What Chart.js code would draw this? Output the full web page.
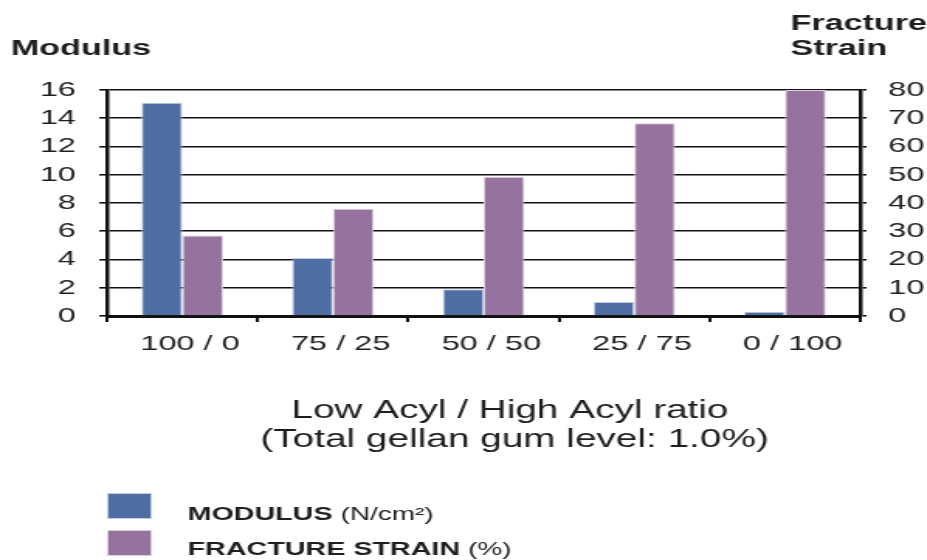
<!DOCTYPE html>
<html>
<head>
<meta charset="utf-8">
<script src="https://cdn.jsdelivr.net/npm/chart.js@4.4.1/dist/chart.umd.min.js"></script>
<style>
  html, body { margin: 0; padding: 0; background: #fff; overflow: hidden; }
  #wrap { width: 927px; height: 560px; overflow: hidden; }
  /* the chart is laid out narrow and widened horizontally */
  #c { transform: scaleX(1.55); transform-origin: 0 0; }
</style>
</head>
<body>
<div id="wrap"><canvas id="c" width="598" height="560"></canvas></div>
<script>
// Low acyl / high acyl blend ratios
const ratios = ['100 / 0', '75 / 25', '50 / 50', '25 / 75', '0 / 100'];
// Gel modulus, N/cm²
const modulus = [15.1, 4.1, 1.9, 1.0, 0.3];
// Fracture strain, %
const fractureStrain = [28.5, 38, 49.3, 68.2, 80];

const seriesNames = ['MODULUS', 'FRACTURE STRAIN'];
const seriesUnits = ['(N/cm²)', '(%)'];
const seriesColors = ['#4e6da3', '#96729e'];
const seriesEdges = ['#c3cde3', '#dccfe0'];

const leftAxisTitle = ['Modulus'];
const rightAxisTitle = ['Fracture', 'Strain'];
const xAxisTitle = ['Low Acyl / High Acyl ratio', '(Total gellan gum level: 1.0%)'];

const FONT = '"Liberation Sans", Arial, Helvetica, sans-serif';
const INK = '#1e1e1e';
const LINE = '#111111';

// Category labels sit a little right of their bar pairs
const labelShift = {
  id: 'labelShift',
  beforeDraw(chart) {
    const s = chart.scales.x;
    const items = s.getLabelItems(chart.chartArea);
    if (items._shifted) return;
    items.forEach(it => { it.options.translation[0] += 5; });
    items._shifted = true;
  }
};

// Axis titles and the stacked legend under the plot
const extraText = {
  id: 'extraText',
  afterDraw(chart) {
    const ctx = chart.ctx;
    ctx.save();
    ctx.fillStyle = INK;
    ctx.textBaseline = 'alphabetic';

    ctx.font = 'bold 22px ' + FONT;
    ctx.textAlign = 'left';
    ctx.fillText(leftAxisTitle[0], 7, 55);
    ctx.fillText(rightAxisTitle[0], 510, 30);
    ctx.fillText(rightAxisTitle[1], 510, 55);

    ctx.font = '25px ' + FONT;
    ctx.textAlign = 'center';
    ctx.fillText(xAxisTitle[0], 329, 418);
    ctx.fillText(xAxisTitle[1], 332, 447);

    const rows = [{ box: 493, base: 520 }, { box: 530, base: 555 }];
    chart.data.datasets.forEach((ds, i) => {
      const r = rows[i];
      ctx.fillStyle = ds.backgroundColor;
      ctx.fillRect(69, r.box, 29, 26);
      ctx.strokeStyle = ds.borderColor;
      ctx.lineWidth = 1;
      ctx.strokeRect(69.5, r.box + 0.5, 28, 25);
      ctx.fillStyle = INK;
      ctx.textAlign = 'left';
      ctx.font = 'bold 18.5px ' + FONT;
      ctx.fillText(seriesNames[i], 121, r.base);
      const w = ctx.measureText(seriesNames[i] + ' ').width;
      ctx.font = '18px ' + FONT;
      ctx.fillText(seriesUnits[i], 121 + w, r.base);
    });
    ctx.restore();
  }
};

Chart.defaults.font.family = FONT;

new Chart(document.getElementById('c'), {
  type: 'bar',
  data: {
    labels: ratios,
    datasets: [
      {
        label: seriesNames[0] + ' ' + seriesUnits[0],
        data: modulus,
        yAxisID: 'y',
        backgroundColor: seriesColors[0],
        borderColor: seriesEdges[0],
        borderWidth: 1,
        categoryPercentage: 0.542,
        barPercentage: 1.0
      },
      {
        label: seriesNames[1] + ' ' + seriesUnits[1],
        data: fractureStrain,
        yAxisID: 'y1',
        backgroundColor: seriesColors[1],
        borderColor: seriesEdges[1],
        borderWidth: 1,
        categoryPercentage: 0.542,
        barPercentage: 1.0
      }
    ]
  },
  options: {
    responsive: false,
    animation: false,
    devicePixelRatio: 1,
    layout: { padding: { top: 90, left: 0, right: 0, bottom: 0 } },
    plugins: {
      legend: { display: false },
      tooltip: { enabled: false },
      title: { display: false }
    },
    scales: {
      x: {
        offset: true,
        grid: { offset: true, drawOnChartArea: false, drawTicks: true, tickLength: 6, color: LINE, lineWidth: 2 },
        border: { display: true, color: LINE, width: 3 },
        ticks: { color: INK, font: { size: 21 }, padding: 10, maxRotation: 0, autoSkip: false },
        afterFit(s) { s.height = 244; }
      },
      y: {
        position: 'left',
        min: 0, max: 16,
        ticks: { stepSize: 2, color: INK, font: { size: 21 }, padding: 15 },
        grid: { color: LINE, lineWidth: 1.6, tickLength: 5, drawTicks: true },
        border: { display: true, color: LINE, width: 2.5 },
        afterFit(s) { s.width = 69; }
      },
      y1: {
        position: 'right',
        min: 0, max: 80,
        ticks: { stepSize: 10, color: INK, font: { size: 21 }, padding: 14 },
        grid: { drawOnChartArea: false, color: LINE, lineWidth: 1.6, tickLength: 4, drawTicks: true },
        border: { display: true, color: LINE, width: 2.5 },
        afterFit(s) { s.width = 43; }
      }
    }
  },
  plugins: [labelShift, extraText]
});
</script>
</body>
</html>
